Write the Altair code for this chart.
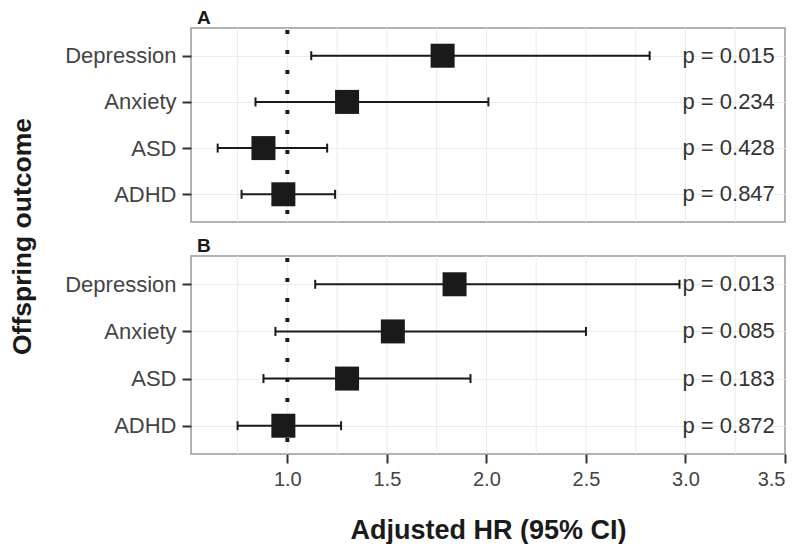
import altair as alt
import pandas as pd

outcomes = ["Depression", "Anxiety", "ASD", "ADHD"]

hr_a = [1.78, 1.30, 0.88, 0.98]
lo_a = [1.12, 0.84, 0.65, 0.77]
hi_a = [2.82, 2.01, 1.20, 1.24]
p_a = ["0.015", "0.234", "0.428", "0.847"]

hr_b = [1.84, 1.53, 1.30, 0.98]
lo_b = [1.14, 0.94, 0.88, 0.75]
hi_b = [2.97, 2.50, 1.92, 1.27]
p_b = ["0.013", "0.085", "0.183", "0.872"]

x_ticks = [1.0, 1.5, 2.0, 2.5, 3.0, 3.5]
grid_values = [0.75, 1.0, 1.25, 1.5, 1.75, 2.0, 2.25, 2.5, 2.75, 3.0, 3.25]
ref_value = [1.0]
p_label_x = 2.985

FONT = "Liberation Sans"
INK = "#1a1a1a"

xscale = alt.Scale(domain=[0.516, 3.5], nice=False, zero=False)
yscale = alt.Scale(type="point", padding=0.6, domain=outcomes)


def panel(letter, hr, lo, hi, pv, first, height):
    df = pd.DataFrame({
        "outcome": outcomes, "hr": hr, "lo": lo, "hi": hi,
        "p": ["p = " + v for v in pv],
    })
    if first:
        xaxis = None
        yaxis = alt.Axis(
            title="Offspring outcome", titleAngle=-90, titleX=-169, titleY=208,
            titleAlign="center", titleBaseline="middle",
            titleFontSize=26.5, titleFontWeight="bold", titleColor=INK,
        )
    else:
        xaxis = alt.Axis(
            values=x_ticks, format=".1f", grid=False, domain=False,
            tickSize=9, tickWidth=2, tickColor="#333333",
            labelFontSize=20, labelColor="#444444", labelPadding=6,
            title="Adjusted HR (95% CI)", titleFontSize=27, titleFontWeight="bold",
            titleColor=INK, titlePadding=28,
        )
        yaxis = alt.Axis(title=None)

    def X(field=None, datum=None):
        if datum is not None:
            return alt.X(datum=datum, type="quantitative", scale=xscale, axis=xaxis)
        return alt.X(field, type="quantitative", scale=xscale, axis=xaxis)

    Y = alt.Y("outcome:N", scale=yscale, sort=outcomes, axis=yaxis)

    grid = alt.Chart(pd.DataFrame({"g": grid_values})).mark_rule(
        color="#ebebeb", strokeWidth=1
    ).encode(x=X("g"))

    bars = alt.Chart(df).mark_rule(color=INK, strokeWidth=2).encode(
        x=X("lo"), x2="hi", y=Y
    )
    cap_lo = alt.Chart(df).mark_tick(
        orient="vertical", size=9, thickness=2, color=INK, opacity=1
    ).encode(x=X("lo"), y=Y)
    cap_hi = alt.Chart(df).mark_tick(
        orient="vertical", size=9, thickness=2, color=INK, opacity=1
    ).encode(x=X("hi"), y=Y)

    ref = alt.Chart(pd.DataFrame({"r": ref_value})).mark_rule(
        color=INK, strokeWidth=4, strokeDash=[4, 16], strokeDashOffset=-2,
        strokeCap="butt",
    ).encode(x=X("r"))

    squares = alt.Chart(df).mark_square(size=576, color=INK, opacity=1).encode(
        x=X("hr"), y=Y
    )

    ptext = alt.Chart(df).mark_text(
        align="left", baseline="middle", fontSize=22, color="#333333", font=FONT
    ).encode(x=X(datum=p_label_x), y=Y, text="p:N")

    tag = alt.Chart(pd.DataFrame({"panel": [letter]})).mark_text(
        align="left", baseline="alphabetic", fontSize=19, fontWeight="bold",
        color=INK, font=FONT,
    ).encode(x=alt.value(6), y=alt.value(-4), text="panel:N")

    return alt.layer(grid, bars, cap_lo, cap_hi, ref, squares, ptext, tag).properties(
        width=594, height=height,
    )


chart = alt.vconcat(
    panel("A", hr_a, lo_a, hi_a, p_a, True, 194),
    panel("B", hr_b, lo_b, hi_b, p_b, False, 198),
    spacing=34, bounds="flush",
).properties(
    padding={"left": 0, "top": 0, "right": 5, "bottom": 0},
).configure(
    font=FONT,
).configure_view(
    stroke="#999999", strokeWidth=1.5,
).configure_axisY(
    labelFontSize=22, labelColor="#444444", labelPadding=6,
    tickSize=9, tickWidth=2, tickColor="#333333",
    domain=False, grid=True, gridColor="#ebebeb", gridWidth=1,
)

chart.save("out.html", embed_options={"renderer": "svg", "actions": False})
